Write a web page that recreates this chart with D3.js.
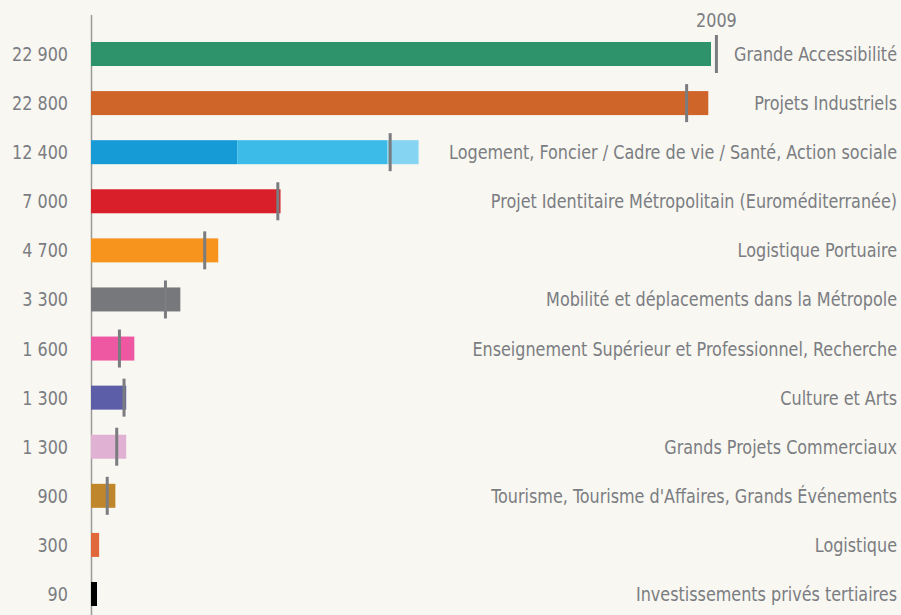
<!DOCTYPE html>
<html>
<head>
<meta charset="utf-8">
<script src="https://cdn.jsdelivr.net/npm/d3@7"></script>
<style>
  body { margin: 0; background: #f8f7f1; }
  text { font-family: "DejaVu Sans Condensed", "DejaVu Sans", sans-serif; fill: #7b7d82; }
</style>
</head>
<body>
<div id="chart"></div>
<script>
// Categories, top to bottom
const categories = [
  "Grande Accessibilité",
  "Projets Industriels",
  "Logement, Foncier / Cadre de vie / Santé, Action sociale",
  "Projet Identitaire Métropolitain (Euroméditerranée)",
  "Logistique Portuaire",
  "Mobilité et déplacements dans la Métropole",
  "Enseignement Supérieur et Professionnel, Recherche",
  "Culture et Arts",
  "Grands Projets Commerciaux",
  "Tourisme, Tourisme d'Affaires, Grands Événements",
  "Logistique",
  "Investissements privés tertiaires"
];

// Value labels shown on the left
const valueLabels = ["22 900", "22 800", "12 400", "7 000", "4 700", "3 300", "1 600", "1 300", "1 300", "900", "300", "90"];

// Bar values (the Logement bar is split in three parts)
const values = [22900, 22800, 12400, 7000, 4700, 3300, 1600, 1300, 1300, 900, 300, 90];
const logementParts = [5400, 5550, 1150];

// 2009 reference values (null = no marker)
const values2009 = [23100, 22000, 11050, 6900, 4200, 2750, 1050, 1220, 950, 600, null, null];

const colors = ["#2e936a", "#d0652a", "#169bd7", "#d9202a", "#f7941e", "#77787b",
                "#ee58a3", "#5c5ea8", "#e0b1d2", "#c0862b", "#e0683a", "#000000"];
const logementColors = ["#169bd7", "#3dbbe8", "#85d4f1"];

const width = 901, height = 615;
const squeeze = 0.89; // narrow the glyphs horizontally
const svg = d3.select("#chart").append("svg")
  .attr("width", width)
  .attr("height", height);

const x = d3.scaleLinear().domain([0, 22900]).range([91, 711]);
const y = d3.scalePoint().domain(categories).range([54, 594]);
const barH = 24;
const minW = 6;

// axis line
svg.append("line")
  .attr("x1", 91.5).attr("x2", 91.5)
  .attr("y1", 15).attr("y2", height)
  .attr("stroke", "#9a9a9a")
  .attr("stroke-width", 1.5);

const rows = svg.selectAll("g.row")
  .data(categories)
  .enter()
  .append("g")
  .attr("class", "row");

// bars
rows.each(function (d, i) {
  const g = d3.select(this);
  if (i === 2) {
    let start = 0;
    logementParts.forEach((v, j) => {
      g.append("rect")
        .attr("x", x(start))
        .attr("y", y(d) - barH / 2)
        .attr("width", x(start + v) - x(start))
        .attr("height", barH)
        .attr("fill", logementColors[j]);
      start += v;
    });
  } else {
    g.append("rect")
      .attr("x", x(0))
      .attr("y", y(d) - barH / 2)
      .attr("width", Math.max(minW, x(values[i]) - x(0)))
      .attr("height", barH)
      .attr("fill", colors[i]);
  }
});

// 2009 markers
rows.filter((d, i) => values2009[i] !== null)
  .append("line")
  .attr("x1", d => x(values2009[categories.indexOf(d)]))
  .attr("x2", d => x(values2009[categories.indexOf(d)]))
  .attr("y1", d => y(d) - barH / 2 - 7)
  .attr("y2", d => y(d) + barH / 2 + 7)
  .attr("stroke", "#7a7c80")
  .attr("stroke-width", 3);

svg.append("text")
  .attr("transform", `translate(${x(values2009[0])},27) scale(${squeeze},1)`)
  .attr("text-anchor", "middle")
  .attr("font-size", 20)
  .text("2009");

// value labels
rows.append("text")
  .attr("transform", d => `translate(68,${y(d)}) scale(${squeeze},1)`)
  .attr("dy", "0.35em")
  .attr("text-anchor", "end")
  .attr("font-size", 20)
  .text((d, i) => valueLabels[i]);

// category labels
rows.append("text")
  .attr("transform", d => `translate(897,${y(d)}) scale(${squeeze},1)`)
  .attr("dy", "0.35em")
  .attr("text-anchor", "end")
  .attr("font-size", 20)
  .text(d => d);
</script>
</body>
</html>
